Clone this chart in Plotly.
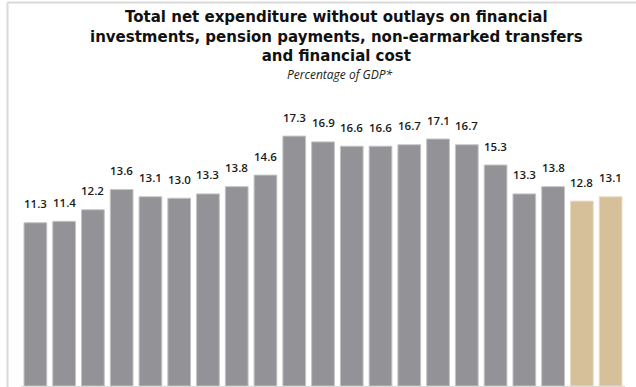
import plotly.graph_objects as go

# Net expenditure as % of GDP; the final two periods are projections
periods = list(range(1, 22))
values = [11.3, 11.4, 12.2, 13.6, 13.1, 13.0, 13.3, 13.8, 14.6, 17.3,
          16.9, 16.6, 16.6, 16.7, 17.1, 16.7, 15.3, 13.3, 13.8, 12.8, 13.1]
projected = [False] * 19 + [True] * 2

GREY, GREY_EDGE = "#939297", "#c4c3c7"
TAN, TAN_EDGE = "#d5c09a", "#e8dcc4"

fill = [TAN if p else GREY for p in projected]
edge = [TAN_EDGE if p else GREY_EDGE for p in projected]

fig = go.Figure(go.Bar(
    x=periods, y=values,
    marker=dict(color=fill, line=dict(color=edge, width=1)),
    hoverinfo="skip",
))

# value labels above each bar
for x, v in zip(periods, values):
    fig.add_annotation(
        x=x, y=v, text=f"{v:.1f}", showarrow=False,
        yanchor="middle", yshift=19,
        font=dict(family="Open Sans", size=11.5, color="#1a1a1a", weight=600),
    )

W, H = 636, 387
L, R, T, B = 21, 11, 100, 1
pw, ph = W - L - R, H - T - B

def px(xp):
    return (xp - L) / pw

def py(yp):
    return (H - B - yp) / ph

fig.add_annotation(
    xref="paper", yref="paper", x=px(336), y=py(36), xanchor="center", yanchor="middle",
    text="<b>Total net expenditure without outlays on financial<br>"
         "investments, pension payments, non-earmarked transfers<br>"
         "and financial cost</b>",
    showarrow=False, align="center",
    font=dict(family="DejaVu Sans", size=15, color="#111111"),
)
fig.add_annotation(
    xref="paper", yref="paper", x=px(339), y=py(75), xanchor="center", yanchor="middle",
    text="<i>Percentage of GDP*</i>", showarrow=False,
    font=dict(family="Open Sans", size=12, color="#222222"),
)

# frame lines on the left and top
fig.add_shape(type="line", xref="paper", yref="paper",
              x0=px(7.5), x1=px(7.5), y0=py(2.5), y1=py(387),
              line=dict(color="#dadada", width=2))
fig.add_shape(type="line", xref="paper", yref="paper",
              x0=px(7.5), x1=px(636), y0=py(2.5), y1=py(2.5),
              line=dict(color="#dadada", width=2))

fig.update_layout(
    width=W, height=H,
    margin=dict(l=L, r=R, t=T, b=B),
    paper_bgcolor="white", plot_bgcolor="white",
    bargap=0.21, showlegend=False,
    xaxis=dict(showticklabels=False, showgrid=False, zeroline=False,
               showline=True, linecolor="#d9d9d9", linewidth=2,
               range=[0.5, 21.5]),
    yaxis=dict(visible=False, range=[0, 19.8]),
)

fig.write_html("out.html")
